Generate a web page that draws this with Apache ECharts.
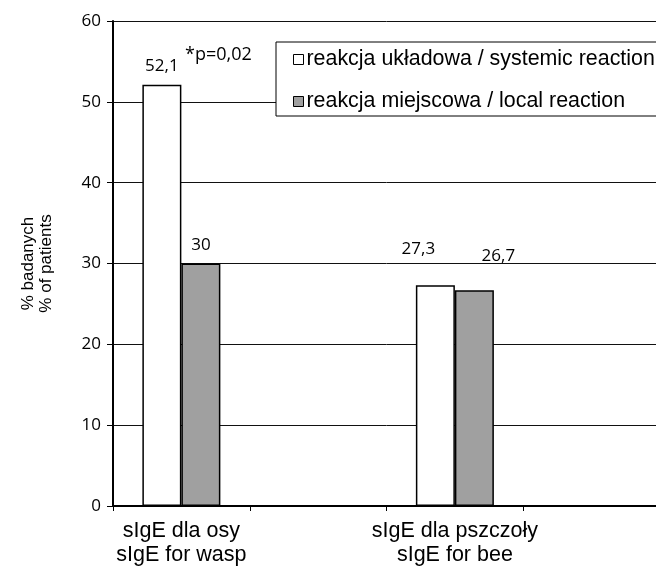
<!DOCTYPE html>
<html>
<head>
<meta charset="utf-8">
<script src="https://cdn.jsdelivr.net/npm/echarts@6/dist/echarts.min.js"></script>
<style>html,body{margin:0;padding:0;background:#fff;overflow:hidden;width:656px;height:567px;}#c{width:680px;height:567px;}</style>
</head>
<body>
<div id="c"></div>
<script>
const categories = ['sIgE dla osy\nsIgE for wasp', '', 'sIgE dla pszczoły\nsIgE for bee', ''];
const seriesNames = ['reakcja układowa / systemic reaction', 'reakcja miejscowa / local reaction'];
const systemic = [52.1, null, 27.3, null];
const local = [30, null, 26.7, null];
const yTicks = [0, 10, 20, 30, 40, 50, 60];
const annotation = '*p=0,02';

const chart = echarts.init(document.getElementById('c'), null, {renderer: 'canvas'});
const numFont = '"Open Sans", sans-serif';
const txtFont = '"Liberation Sans", Arial, sans-serif';

function fmt(v) { return String(v).replace('.', ','); }

const sysLabelOffsets = [[0, 0], null, [-17, -18], null];
const locLabelOffsets = [[0, 0], null, [24, -16], null];

function mkData(vals, offs) {
  return vals.map((v, i) => {
    if (v === null) return '-';
    return {value: v, label: {offset: offs[i]}};
  });
}

const option = {
  animation: false,
  backgroundColor: '#fff',
  grid: {left: 113, top: 21, width: 547, bottom: 61, containLabel: false, outerBoundsMode: 'none'},
  legend: {
    orient: 'vertical',
    left: 276, top: 42,
    width: 379,
    padding: [7, 4, 4, 17],
    itemGap: 21,
    itemWidth: 10, itemHeight: 10,
    backgroundColor: '#fff',
    borderColor: '#000', borderWidth: 1,
    icon: 'rect',
    textStyle: {fontFamily: txtFont, fontSize: 21.4, color: '#000', lineHeight: 21, padding: [0, 0, 0, -2]},
    data: seriesNames.map(n => ({name: n, itemStyle: {borderColor: '#000', borderWidth: 1}}))
  },
  xAxis: {
    type: 'category',
    data: categories,
    boundaryGap: true,
    axisLine: {lineStyle: {color: '#000', width: 2}},
    axisTick: {show: true, length: 5, lineStyle: {color: '#000', width: 1}, alignWithLabel: false},
    axisLabel: {fontFamily: txtFont, fontSize: 21.5, color: '#000', lineHeight: 24, margin: 13, interval: 0},
    splitLine: {show: false}
  },
  yAxis: {
    type: 'value',
    min: yTicks[0], max: yTicks[yTicks.length - 1], interval: 10,
    name: '% badanych\n% of patients',
    nameLocation: 'middle',
    nameRotate: 90,
    nameGap: 58,
    nameTextStyle: {fontFamily: txtFont, fontSize: 17, color: '#000', lineHeight: 18},
    axisLine: {show: true, lineStyle: {color: '#000', width: 2}},
    axisTick: {show: true, length: 6, lineStyle: {color: '#000', width: 1}},
    axisLabel: {fontFamily: numFont, fontSize: 17, color: '#000', margin: 12},
    splitLine: {show: true, lineStyle: {color: '#111', width: 1}}
  },
  graphic: [{
    type: 'text',
    left: 185, top: 46,
    style: {text: annotation, fontFamily: numFont, fontSize: 18, fill: '#000'}
  }],
  series: [
    {
      name: seriesNames[0], type: 'bar',
      data: mkData(systemic, sysLabelOffsets),
      barWidth: 39, barGap: '0%',
      itemStyle: {color: '#fff', borderColor: '#000', borderWidth: 1.5},
      label: {show: true, position: 'top', distance: 10, formatter: p => fmt(p.value),
              fontFamily: numFont, fontSize: 17, color: '#000'}
    },
    {
      name: seriesNames[1], type: 'bar',
      data: mkData(local, locLabelOffsets),
      barWidth: 39, barGap: '0%',
      itemStyle: {color: '#a0a0a0', borderColor: '#000', borderWidth: 1.5},
      label: {show: true, position: 'top', distance: 10, formatter: p => fmt(p.value),
              fontFamily: numFont, fontSize: 17, color: '#000'}
    }
  ]
};
chart.setOption(option);
</script>
</body>
</html>
